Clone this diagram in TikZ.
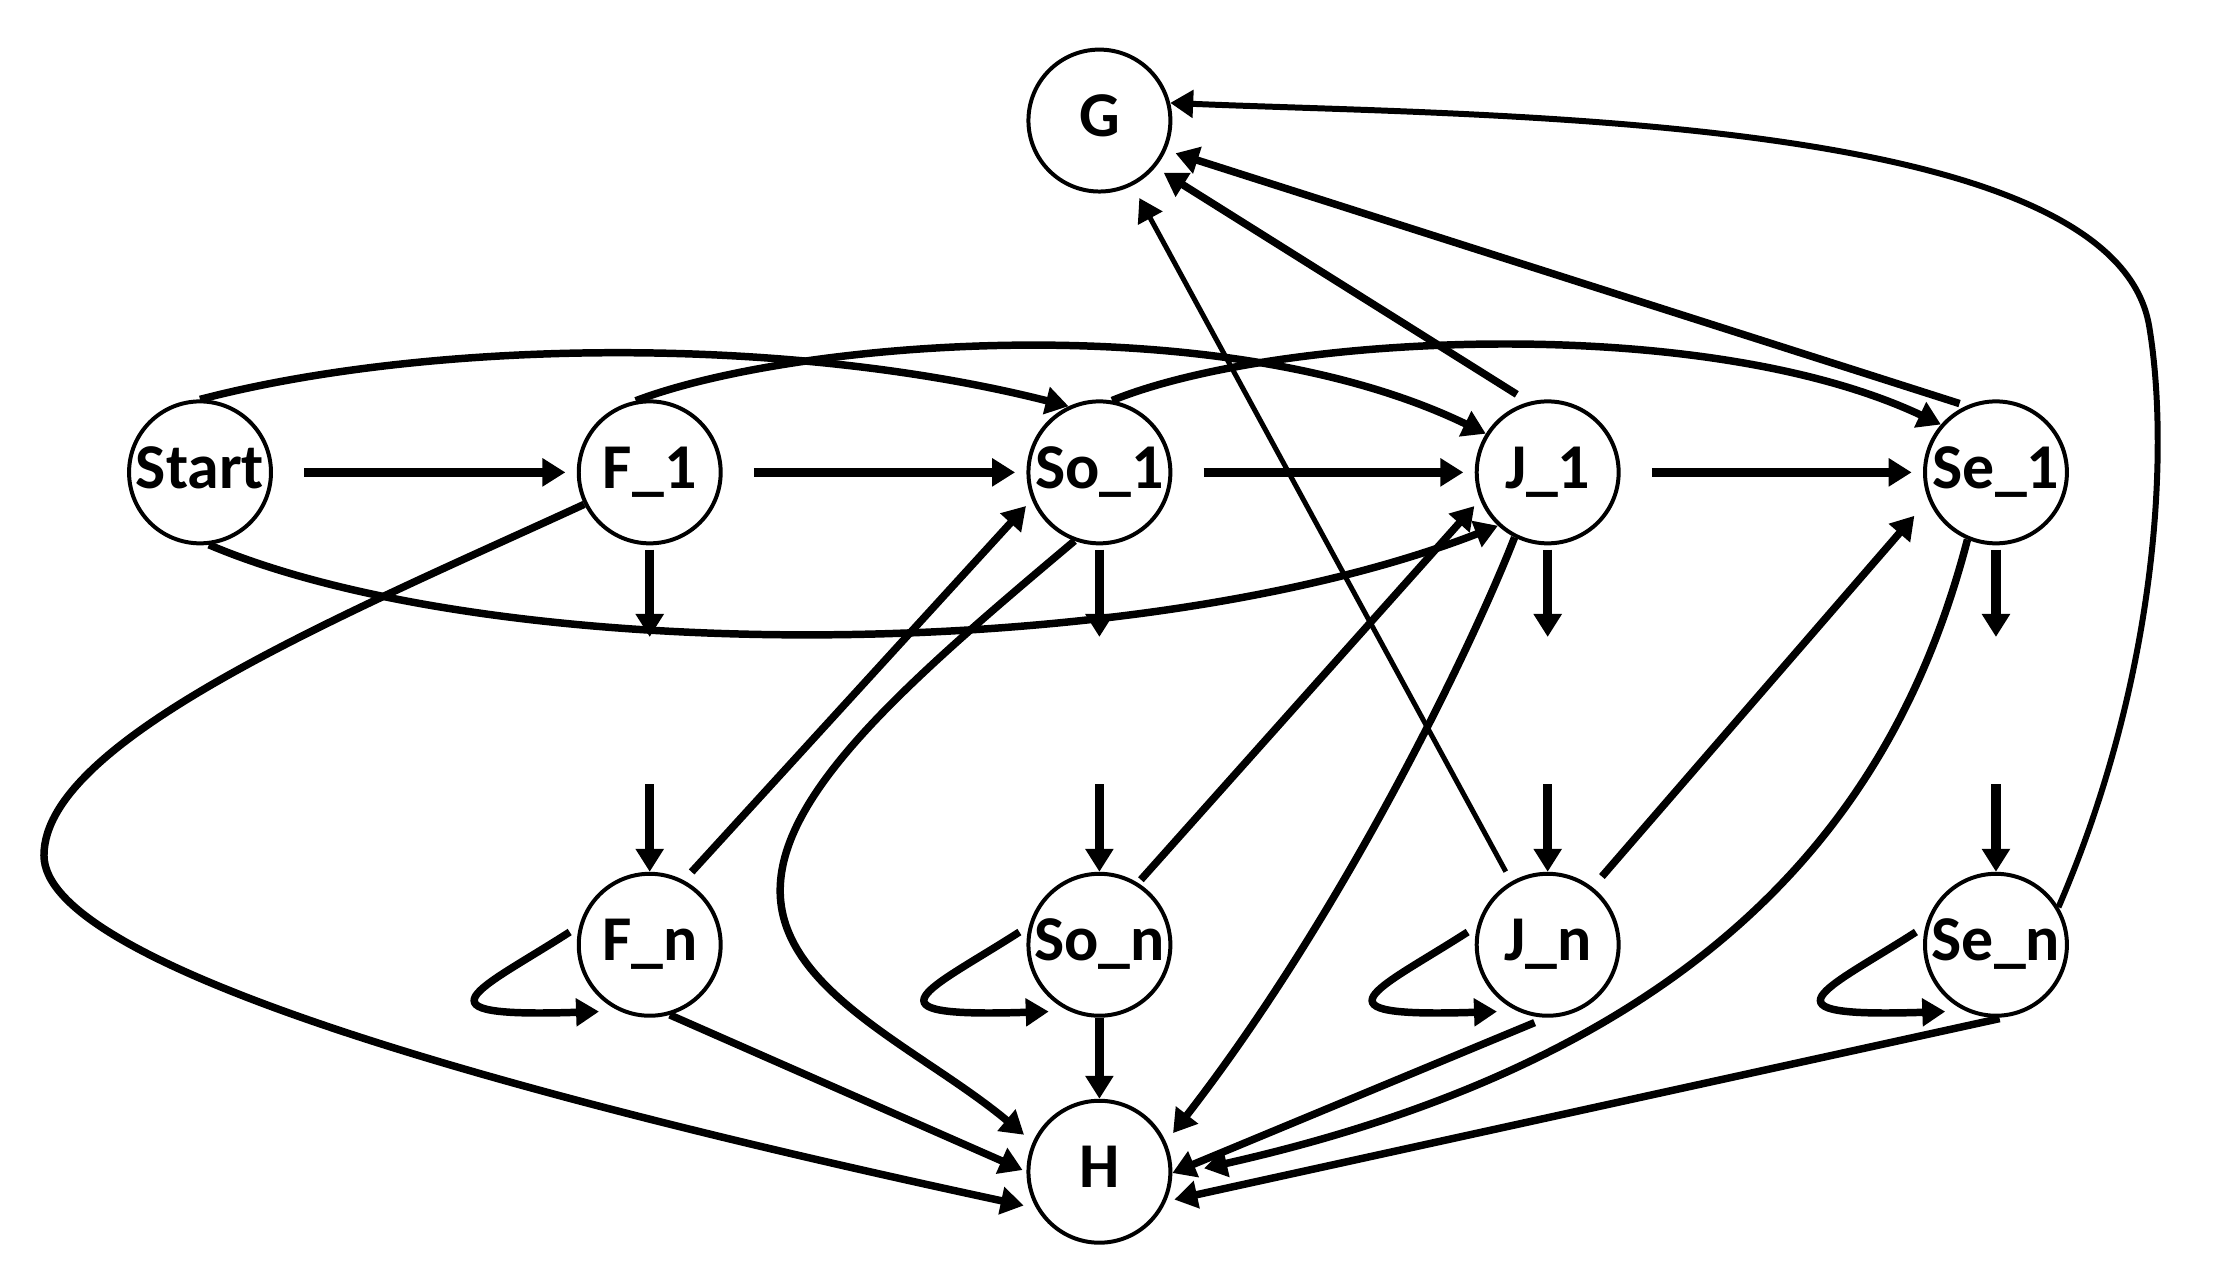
\documentclass[tikz,border=0pt]{standalone}
\usepackage{fontspec}
\setmainfont{Carlito}
\usetikzlibrary{arrows.meta}
\begin{document}
\begin{tikzpicture}[x=0.01cm,y=-0.01cm,
  st/.style={circle,draw,line width=0.8pt,minimum size=1cm,inner sep=0pt,
    font=\fontsize{12.8}{14}\selectfont\bfseries,text height=0.64em,text depth=0pt},
  ar/.style={line width=1.5pt,-{Triangle[length=4.6pt,width=5.4pt]}},
  straight/.style={line width=1.9pt},
  thinline/.style={line width=1.0pt}]
\useasboundingbox (0,0) rectangle (1560,901.6);
% nodes
\node[st] (Start) at (141,333) {Start};
\node[st] (F1)  at (458,333) {F\_1};
\node[st] (So1) at (775,333) {So\_1};
\node[st] (J1)  at (1091,333) {J\_1};
\node[st] (Se1) at (1407,333) {Se\_1};
\node[st] (Fn)  at (458,666) {F\_n};
\node[st] (Son) at (775,666) {So\_n};
\node[st] (Jn)  at (1091,666) {J\_n};
\node[st] (Sen) at (1407,666) {Se\_n};
\node[st] (G)   at (775,85) {G};
\node[st] (H)   at (775,826) {H};
% stub ends
\coordinate (F1d) at (458,449);  \coordinate (Fnu) at (458,553);
\coordinate (So1d) at (775,449); \coordinate (Sonu) at (775,553);
\coordinate (J1d) at (1091,449); \coordinate (Jnu) at (1091,553);
\coordinate (Se1d) at (1407,449); \coordinate (Senu) at (1407,553);
% horizontal chain
\draw[ar,straight,shorten <=0.22cm,shorten >=0.08cm] (Start) -- (F1);
\draw[ar,straight,shorten <=0.22cm,shorten >=0.08cm] (F1) -- (So1);
\draw[ar,straight,shorten <=0.22cm,shorten >=0.08cm] (So1) -- (J1);
\draw[ar,straight,shorten <=0.22cm,shorten >=0.08cm] (J1) -- (Se1);
% upper skip arcs
\draw[ar] (Start.north) .. controls (300,240) and (550,235) .. (So1.115);
\draw[ar] (F1.101) .. controls (560,240) and (860,215) .. (J1.148);
\draw[ar] (So1.80) .. controls (900,235) and (1200,220) .. (Se1.139);
% lower skip arc
\draw[ar] (Start.-83) .. controls (350,470) and (800,470) .. (J1.-133);
% stubs
\foreach \a/\b/\c/\d in {F1/F1d/Fnu/Fn, So1/So1d/Sonu/Son, J1/J1d/Jnu/Jn, Se1/Se1d/Senu/Sen}{
  \draw[ar,straight,shorten <=0.03cm] (\a) -- (\b);
  \draw[ar,straight] (\c) -- (\d);
}
% cross arrows back to row 1
\draw[ar,shorten <=0.08cm,shorten >=0.06cm] (Fn.62) -- (So1.-158);
\draw[ar,shorten <=0.03cm,shorten >=0.06cm] (Son.58) -- (J1.-158);
\draw[ar,shorten <=0.1cm,shorten >=0.15cm] (Jn.52) -- (Se1.-158);
% to G
\draw[ar,thinline,shorten <=0.08cm,shorten >=0.1cm] (Jn.120) -- (G.-63);
\draw[ar,shorten <=0.1cm,shorten >=0.07cm] (J1.105) -- (G.-40);
\draw[ar,shorten <=0.05cm,shorten >=0.07cm] (Se1.114) -- (G.-24);
\draw[ar,line width=1.2pt] (Sen.31) .. controls (1520,480) and (1530,320) .. (1515,230)
   .. controls (1490,80) and (1050,82) .. (G.14);
% to H
\draw[ar,shorten >=0.09cm] (F1.-154) .. controls (250,430) and (31,520) .. (31,603)
   .. controls (31,680) and (350,770) .. (H.-150);
\draw[ar,shorten >=0.08cm] (So1.-110) .. controls (640,480) and (548,560) .. (550,630)
   .. controls (552,700) and (650,740) .. (H.156);
\draw[ar,shorten >=0.03cm] (Fn.-74) -- (H.180);
\draw[ar,straight] (Son) -- (H);
\draw[ar,shorten >=0.08cm] (J1.-117) .. controls (1040,450) and (950,640) .. (H.24);
\draw[ar,shorten >=0.23cm] (Se1.-113) .. controls (1340,560) and (1220,740) .. (H.-3);
\draw[ar,shorten <=0.09cm] (Jn.-91) -- (H.-1);
\draw[ar,shorten <=0.11cm,shorten >=0.06cm] (Sen.-75) -- (H.-24);
% self loops
\foreach \n in {Fn,Son,Jn,Sen}{
  \draw[ar,shorten <=0.08cm,shorten >=0.14cm] (\n.165) .. controls +(-70,45) and +(-150,5) .. (\n.-115);
}
\end{tikzpicture}
\end{document}
